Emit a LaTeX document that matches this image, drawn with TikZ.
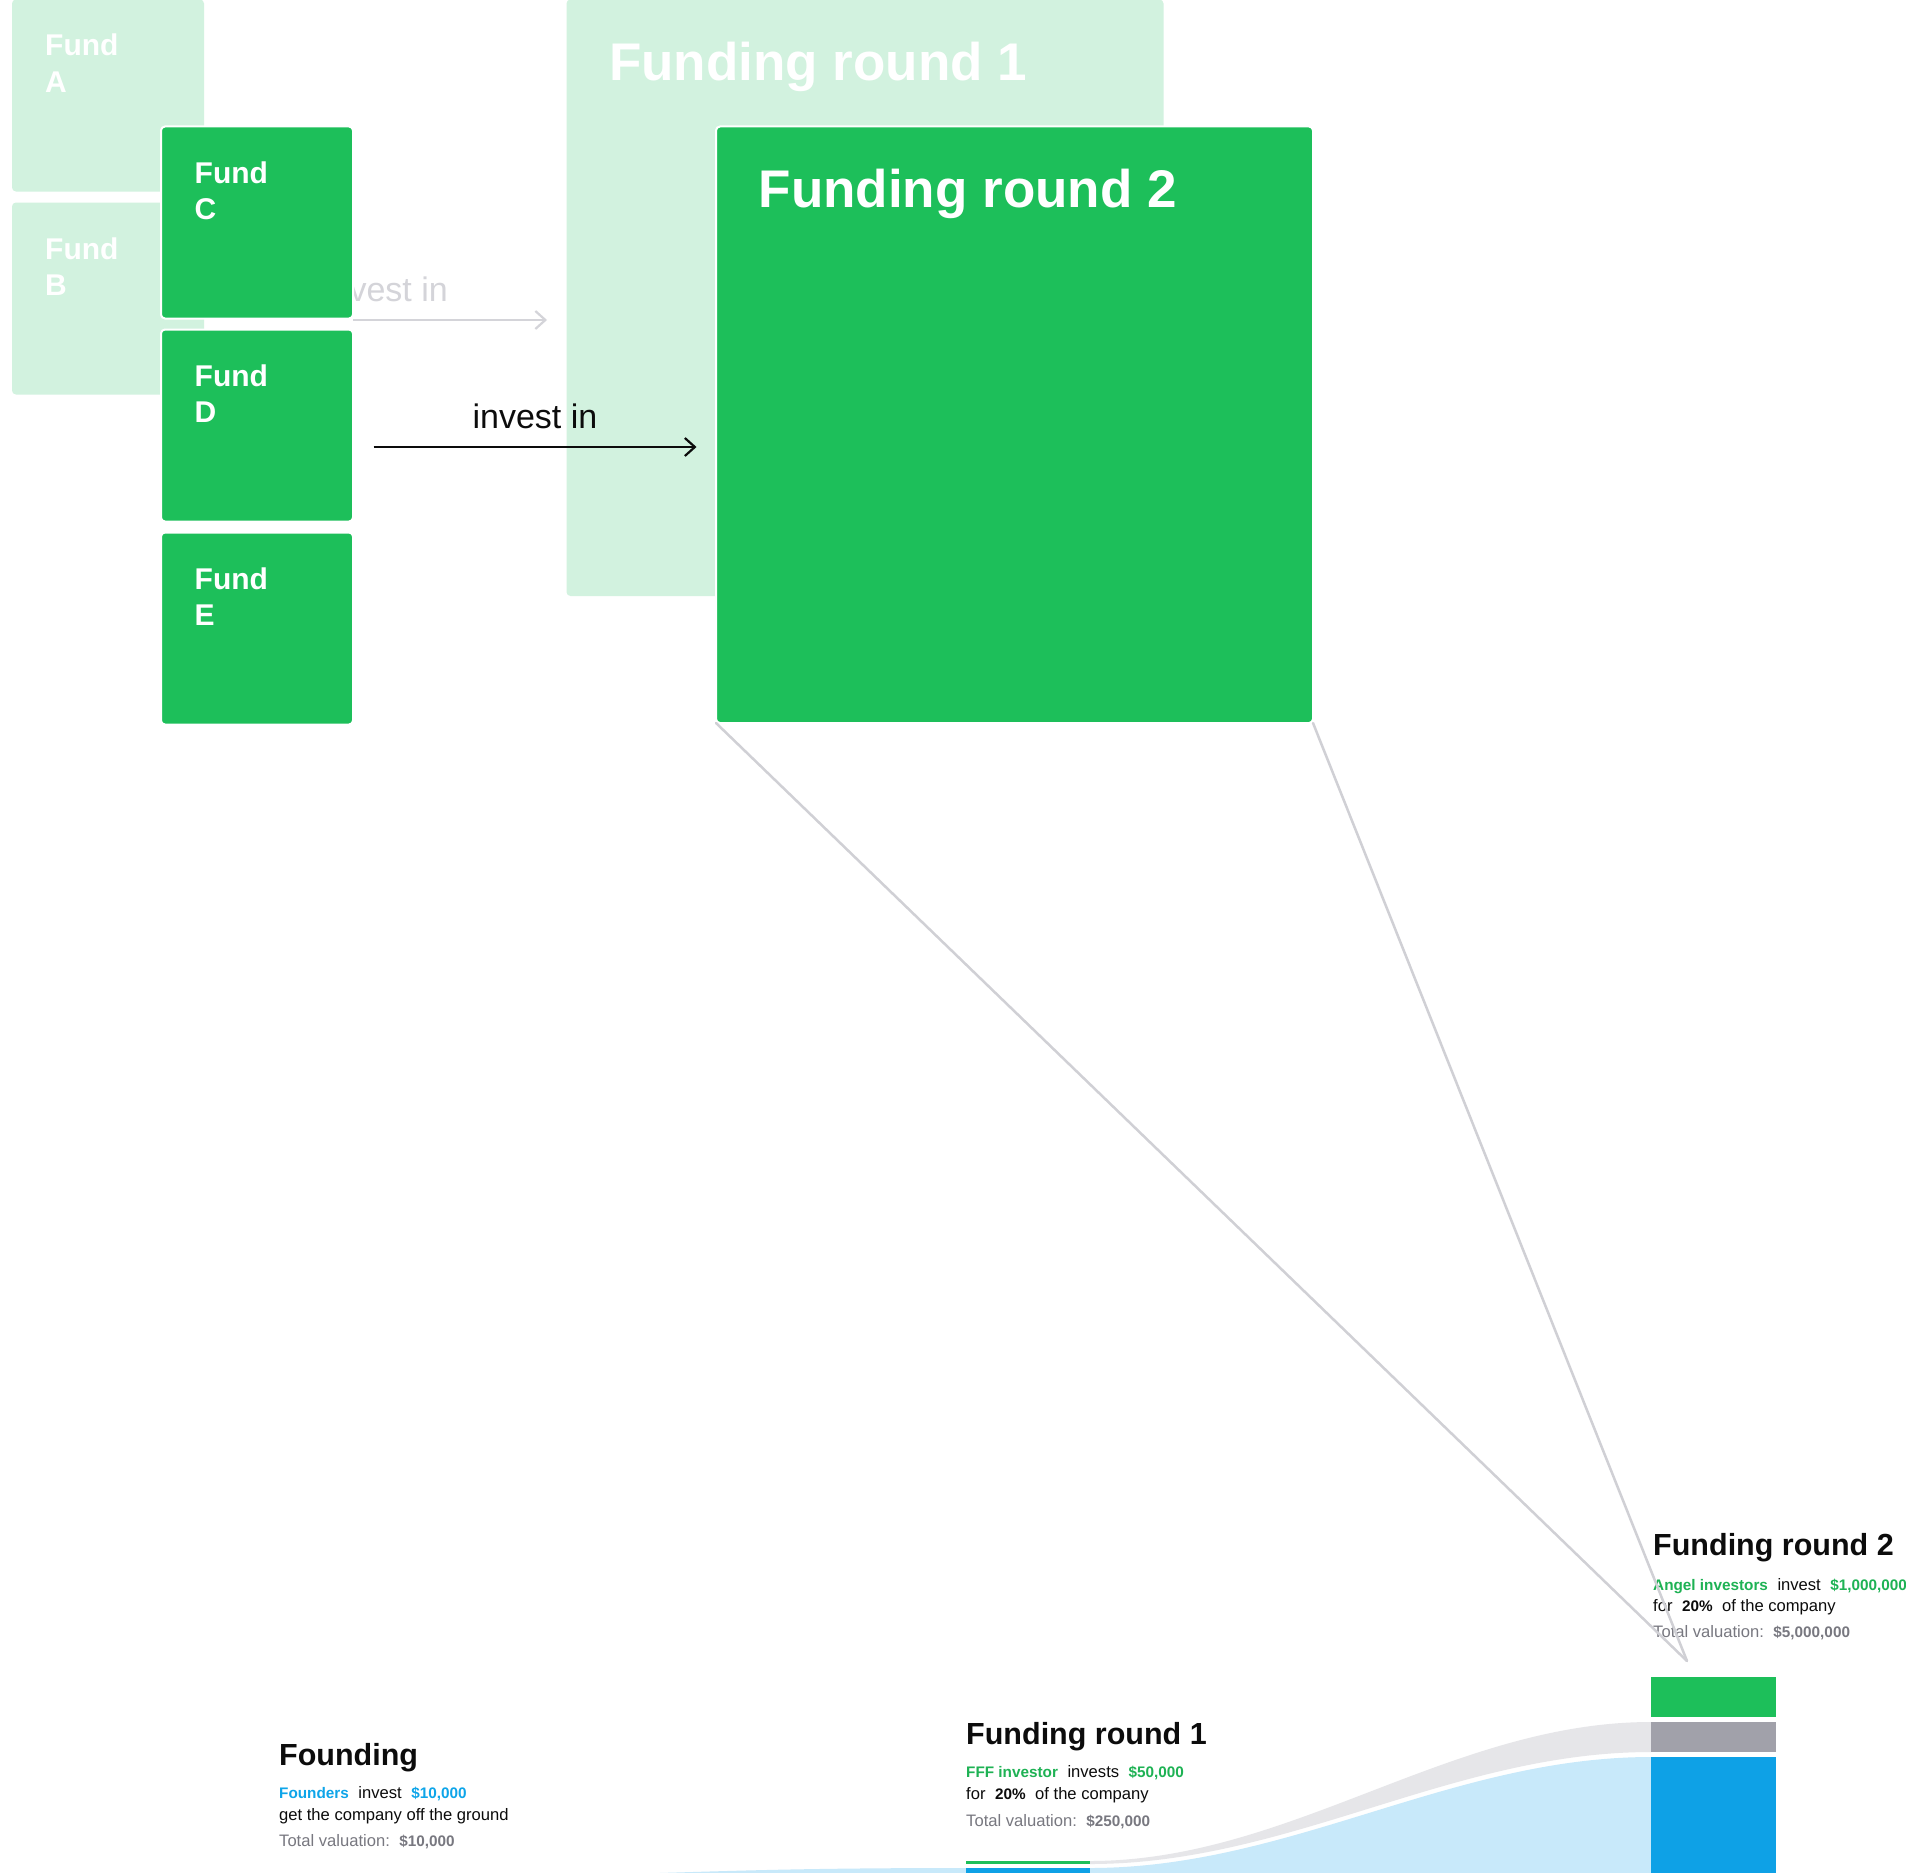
\documentclass[tikz,border=0pt]{standalone}
\usepackage{fontspec}
\setmainfont{Liberation Sans}
\usetikzlibrary{arrows.meta,calc}

\definecolor{boxgreen}{RGB}{29,191,90}
\definecolor{palegreen}{RGB}{210,242,223}
\definecolor{textgreen}{RGB}{30,178,84}
\definecolor{barblue}{RGB}{14,161,230}
\definecolor{paleblue}{RGB}{200,233,250}
\definecolor{textblue}{RGB}{14,165,233}
\definecolor{bargray}{RGB}{161,161,170}
\definecolor{palegray}{RGB}{230,230,233}
\definecolor{linegray}{RGB}{208,208,213}
\definecolor{ghostgray}{RGB}{212,212,217}
\definecolor{valgray}{RGB}{120,120,128}
\definecolor{inkblack}{RGB}{12,12,12}

\newcommand\setpx[1]{\fontsize{#1pt}{#1pt}\selectfont}
\newcommand\bnum[1]{{\setpx{15.3}\bfseries #1}}

\begin{document}
\begin{tikzpicture}[x=1pt,y=-1pt,
  fundbox/.style={rectangle, rounded corners=4pt, inner sep=0pt, outer sep=0pt,
    minimum width=192pt, minimum height=192pt, anchor=north west},
  roundbox/.style={rectangle, rounded corners=4pt, inner sep=0pt, outer sep=0pt,
    minimum width=597pt, minimum height=596.5pt, anchor=north west},
  faded/.style={fill=palegreen},
  active/.style={fill=boxgreen, draw=white, line width=2pt},
  fundlabel/.style={anchor=base west, inner sep=0pt, text=white, font=\setpx{30}\bfseries},
  roundlabel/.style={anchor=base west, inner sep=0pt, text=white, font=\setpx{53}\bfseries},
  investarrow/.style={line width=2.2pt, -{Straight Barb[length=10pt,width=18pt,line width=2.2pt]}, shorten >=19.5pt},
  arrowtext/.style={anchor=base, inner sep=0pt, font=\setpx{34}},
  stagetitle/.style={anchor=base west, inner sep=0pt, text=inkblack, font=\setpx{30.5}\bfseries},
  stageline/.style={anchor=base west, inner sep=0pt, text=inkblack, font=\setpx{16.6}},
  zoomline/.style={draw=linegray, line width=2.5pt, line cap=round}
]
\useasboundingbox (0,0) rectangle (1906,1873);
\fill[white] (0,0) rectangle (1906,1873);

% ---- earlier step, faded ----
\node[fundbox, faded] (fa) at (12,-0.5) {};
\node[fundbox, faded] (fb) at (12,202.5) {};
\node[roundbox, faded] (fr1) at (566.5,-0.5) {};
\node[fundlabel] (faL1) at (45,56) {Fund};
\node[fundlabel] (faL2) at (45,92.5) {A};
\node[fundlabel] (fbL1) at (45,259) {Fund};
\node[fundlabel] (fbL2) at (45,295.5) {B};
\node[roundlabel] (fr1L) at (609,80.5) {Funding round 1};
\coordinate (ghostStart) at (353,320);
\draw[investarrow, draw=ghostgray] (ghostStart) -- (ghostStart -| fr1.west);
\node[arrowtext, text=ghostgray] (ghostInv) at (385.5,301) {invest in};

% ---- current step ----
\node[fundbox, active] (fc) at (161,126.5) {};
\node[fundbox, active] (fd) at (161,329.5) {};
\node[fundbox, active] (fe) at (161,532.5) {};
\node[roundbox, active] (fr2) at (716,126.5) {};
\node[fundlabel] (fcL1) at (194.5,183) {Fund};
\node[fundlabel] (fcL2) at (194.5,219.5) {C};
\node[fundlabel] (fdL1) at (194.5,386) {Fund};
\node[fundlabel] (fdL2) at (194.5,422.5) {D};
\node[fundlabel] (feL1) at (194.5,589) {Fund};
\node[fundlabel] (feL2) at (194.5,625.5) {E};
\node[roundlabel] (fr2L) at (758.5,207) {Funding round 2};
\coordinate (arrowStart) at (373.5,447);
\draw[investarrow, draw=inkblack] (arrowStart) -- (arrowStart -| fr2.west);
\node[arrowtext, text=inkblack] (inv) at (535,428) {invest in};

% ---- ownership flows ----
\fill[paleblue] (403,1876.5) .. controls (684,1876.5) and (684,1868) .. (966,1868)
  -- (966,1885) -- (403,1885) -- cycle;
\fill[paleblue] (1090,1868) .. controls (1290,1868) and (1451,1757) .. (1651,1757)
  -- (1651,1885) -- (1090,1885) -- cycle;
\fill[palegray] (1090,1861) .. controls (1290,1861) and (1451,1722) .. (1651,1722)
  -- (1651,1752) .. controls (1451,1752) and (1290,1864) .. (1090,1864) -- cycle;

% stake bars
\fill[boxgreen] (966,1861) rectangle (1090,1864);
\fill[barblue] (966,1868) rectangle (1090,1885);
\fill[boxgreen] (1651,1677) rectangle (1776,1717);
\fill[bargray] (1651,1722) rectangle (1776,1752);
\fill[barblue] (1651,1757) rectangle (1776,1885);

% ---- stage captions ----
\node[stagetitle] (foT) at (279,1765) {Founding};
\node[stageline] (fo1) at (279,1798) {{\color{textblue}\bnum{Founders}}\hspace{9.5pt}invest\hspace{9.5pt}{\color{textblue}\bnum{\$10,000}}};
\node[stageline] (fo2) at (279,1820) {get the company off the ground};
\node[stageline, text=valgray] (fo3) at (279,1846) {Total valuation:\hspace{9.5pt}\bnum{\$10,000}};

\node[stagetitle] (r1T) at (966,1744) {Funding round 1};
\node[stageline] (r11) at (966,1777) {{\color{textgreen}\bnum{FFF investor}}\hspace{9.5pt}invests\hspace{9.5pt}{\color{textgreen}\bnum{\$50,000}}};
\node[stageline] (r12) at (966,1799) {for\hspace{9.5pt}\bnum{20\%}\hspace{9.5pt}of the company};
\node[stageline, text=valgray] (r13) at (966,1826) {Total valuation:\hspace{9.5pt}\bnum{\$250,000}};

\node[stagetitle] (r2T) at (1653,1555) {Funding round 2};
\node[stageline] (r21) at (1653,1590) {{\color{textgreen}\bnum{Angel investors}}\hspace{9.5pt}invest\hspace{9.5pt}{\color{textgreen}\bnum{\$1,000,000}}};
\node[stageline] (r22) at (1653,1611) {for\hspace{9.5pt}\bnum{20\%}\hspace{9.5pt}of the company};
\node[stageline, text=valgray] (r23) at (1653,1637) {Total valuation:\hspace{9.5pt}\bnum{\$5,000,000}};

% ---- zoom lines from the round box down to its stake ----
\coordinate (focus) at (1687,1661);
\draw[zoomline] (fr2.south west) -- (focus);
\draw[zoomline] (fr2.south east) -- (focus);
\end{tikzpicture}
\end{document}
